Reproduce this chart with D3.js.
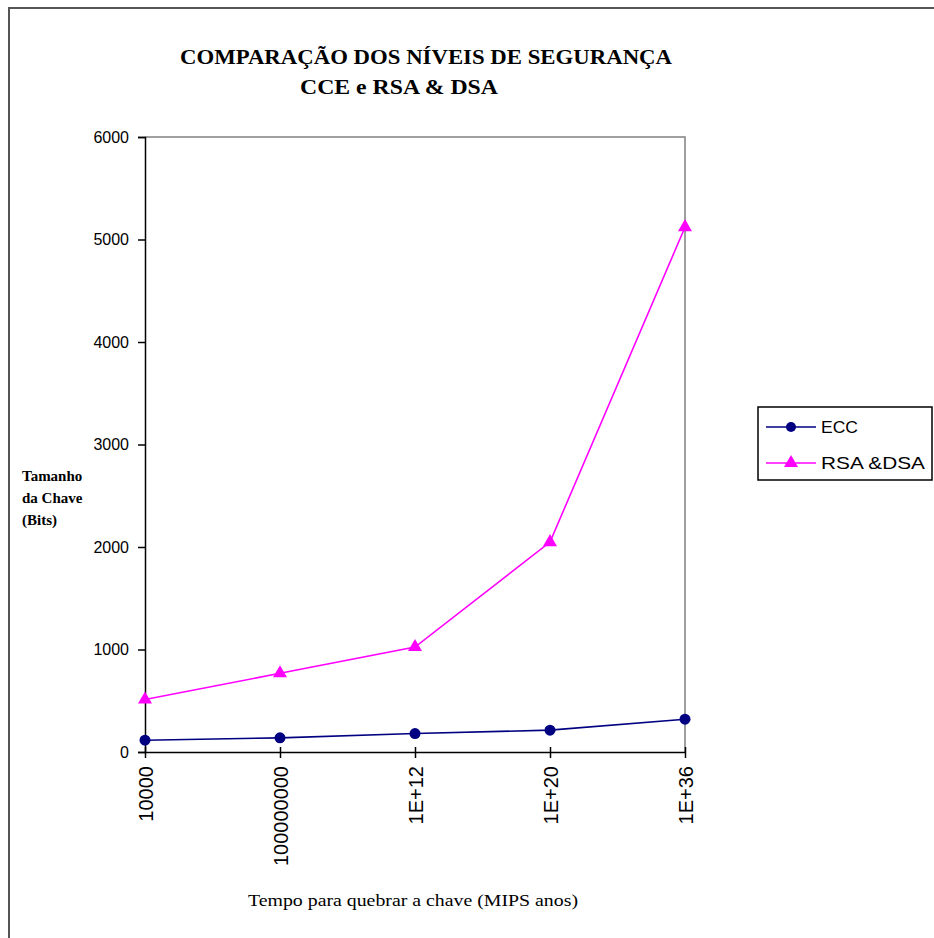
<!DOCTYPE html>
<html><head><meta charset="utf-8">
<script src="https://cdn.jsdelivr.net/npm/d3@7"></script>
<style>body{margin:0;background:#fff}svg{display:block}</style>
</head><body>
<script>
const categories = ["10000", "100000000", "1E+12", "1E+20", "1E+36"];
const eccValues = [115, 138, 180, 213, 320];
const rsaValues = [512, 768, 1024, 2048, 5120];
const yTicks = [0, 1000, 2000, 3000, 4000, 5000, 6000];
const seriesNames = ["ECC", "RSA &DSA"];
const titleLines = ["COMPARAÇÃO DOS NÍVEIS DE SEGURANÇA", "CCE e RSA & DSA"];
const yTitleLines = ["Tamanho", "da Chave", "(Bits)"];
const xTitle = "Tempo para quebrar a chave (MIPS anos)";

const W = 934, H = 938;
const svg = d3.select("body").append("svg").attr("width", W).attr("height", H);
svg.append("rect").attr("width", W).attr("height", H).attr("fill", "#fff");
svg.append("rect").attr("x", 9).attr("y", 8).attr("width", W + 20).attr("height", H + 20)
  .attr("fill", "none").attr("stroke", "#555").attr("stroke-width", 2);

const L = 145, R = 685, T = 137, B = 752;
const x = d3.scalePoint().domain(categories).range([L, R]).padding(0);
const y = d3.scaleLinear().domain([0, 6000]).range([B, T]);
const sans = "Liberation Sans, Arial, sans-serif";
const serif = "Liberation Serif, Times New Roman, serif";

svg.append("path").attr("d", `M${L},${T}H${R}V${B}`).attr("fill", "none")
  .attr("stroke", "#808080").attr("stroke-width", 1.5);

const yAxis = svg.append("g").attr("transform", `translate(${L},0)`)
  .call(d3.axisLeft(y).tickValues(yTicks).tickSize(7).tickPadding(9).tickFormat(d3.format("d")));
yAxis.select(".domain").attr("stroke", "#000").attr("stroke-width", 1.5);
yAxis.selectAll(".tick line").attr("stroke", "#000").attr("stroke-width", 1.5);
yAxis.selectAll("text").attr("font-family", sans).attr("font-size", 16).attr("fill", "#000");

const xAxis = svg.append("g").attr("transform", `translate(0,${B})`)
  .call(d3.axisBottom(x).tickSize(6).tickSizeOuter(0));
xAxis.select(".domain").attr("stroke", "#000").attr("stroke-width", 1.5);
xAxis.selectAll(".tick line").attr("y1", -5).attr("y2", 6).attr("stroke", "#000").attr("stroke-width", 1.5);
xAxis.selectAll("text")
  .attr("font-family", sans).attr("font-size", 20).attr("fill", "#000")
  .attr("transform", "rotate(-90)").attr("text-anchor", "end")
  .attr("x", -14).attr("y", 0).attr("dy", "0.35em");

const line = d3.line().x((d, i) => x(categories[i])).y(d => y(d));
svg.append("path").datum(rsaValues).attr("d", line).attr("fill", "none").attr("stroke", "#ff00ff").attr("stroke-width", 1.6);
svg.append("path").datum(eccValues).attr("d", line).attr("fill", "none").attr("stroke", "#000080").attr("stroke-width", 1.6);

const tri = d3.symbol().type(d3.symbolTriangle).size(85);
svg.selectAll(".rsa").data(rsaValues).join("path").attr("class", "rsa")
  .attr("d", tri).attr("transform", (d, i) => `translate(${x(categories[i])},${y(d)})`).attr("fill", "#ff00ff");
svg.selectAll(".ecc").data(eccValues).join("circle").attr("class", "ecc")
  .attr("cx", (d, i) => x(categories[i])).attr("cy", d => y(d)).attr("r", 5.5).attr("fill", "#000080");

svg.append("text").attr("x", 426).attr("y", 64).attr("text-anchor", "middle")
  .attr("font-family", serif).attr("font-weight", "bold").attr("font-size", 22)
  .attr("textLength", 492).attr("lengthAdjust", "spacingAndGlyphs")
  .text(titleLines[0]);
svg.append("text").attr("x", 399).attr("y", 94).attr("text-anchor", "middle")
  .attr("font-family", serif).attr("font-weight", "bold").attr("font-size", 22)
  .attr("textLength", 198).attr("lengthAdjust", "spacingAndGlyphs")
  .text(titleLines[1]);

svg.append("g").selectAll("text").data(yTitleLines).join("text")
  .attr("x", 22).attr("y", (d, i) => 481 + i * 22)
  .attr("font-family", serif).attr("font-weight", "bold").attr("font-size", 15).attr("fill", "#000")
  .text(d => d);

svg.append("text").attr("x", 413).attr("y", 906).attr("text-anchor", "middle")
  .attr("font-family", serif).attr("font-size", 17).attr("fill", "#000")
  .attr("textLength", 330).attr("lengthAdjust", "spacingAndGlyphs").text(xTitle);

const lg = svg.append("g");
lg.append("rect").attr("x", 758).attr("y", 407).attr("width", 174).attr("height", 73)
  .attr("fill", "#fff").attr("stroke", "#000").attr("stroke-width", 1.5);
const ly = [427, 463];
const colors = ["#000080", "#ff00ff"];
const lens = [37, 104];
seriesNames.forEach((n, i) => {
  lg.append("line").attr("x1", 766).attr("x2", 816).attr("y1", ly[i]).attr("y2", ly[i])
    .attr("stroke", colors[i]).attr("stroke-width", 1.6);
  if (i === 0) lg.append("circle").attr("cx", 791).attr("cy", ly[i]).attr("r", 5).attr("fill", colors[i]);
  else lg.append("path").attr("d", tri).attr("transform", `translate(791,${ly[i]})`).attr("fill", colors[i]);
  lg.append("text").attr("x", 821).attr("y", ly[i]).attr("dy", "0.36em")
    .attr("font-family", sans).attr("font-size", 17).attr("fill", "#000")
    .attr("textLength", lens[i]).attr("lengthAdjust", "spacingAndGlyphs").text(n);
});
</script>
</body></html>
